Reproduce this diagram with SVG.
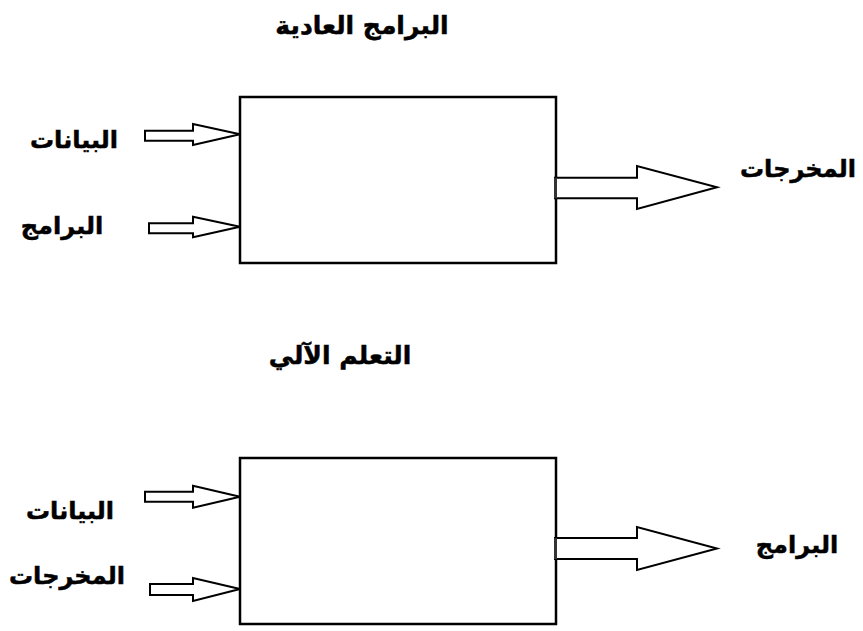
<svg xmlns="http://www.w3.org/2000/svg" width="863" height="631" viewBox="0 0 863 631">
<style>
.bg{fill:#fff}
.box{fill:none;stroke:#000;stroke-width:2.5}
.arr{fill:#fff;stroke:#000;stroke-width:2;stroke-linejoin:miter}
.t{font-family:"DejaVu Sans","Liberation Sans",sans-serif;font-weight:bold;fill:#000;stroke:#000;stroke-width:0.5;text-anchor:middle}
.s{font-size:24px}
.h{font-size:25px}
</style>
<rect class="bg" x="0" y="0" width="863" height="631"/>
<g id="title1"><text class="t h" x="362" y="34" direction="rtl">البرامج العادية</text></g>
<g id="box1"><rect class="box" x="240" y="97" width="316" height="166"/></g>
<g id="label-data1"><text class="t s" x="74" y="148" direction="rtl">البيانات</text></g>
<g id="label-prog1"><text class="t s" x="62" y="234" direction="rtl">البرامج</text></g>
<g id="label-out1"><text class="t s" x="798" y="177" direction="rtl">المخرجات</text></g>
<g id="title2"><text class="t h" x="340" y="364" direction="rtl">التعلم الآلي</text></g>
<g id="box2"><rect class="box" x="240" y="458" width="316" height="166"/></g>
<g id="label-data2"><text class="t s" x="70" y="519" direction="rtl">البيانات</text></g>
<g id="label-out2"><text class="t s" x="67" y="584" direction="rtl">المخرجات</text></g>
<g id="label-prog2"><text class="t s" x="797" y="553" direction="rtl">البرامج</text></g>
<g id="connectors">
<polygon class="arr" points="145,130.7 193,130.7 193,124 240,134.3 193,145 193,140.7 145,140.7"/>
<polygon class="arr" points="149,223.3 193,223.3 193,216.7 240,226.7 193,237.3 193,233.3 149,233.3"/>
<polygon class="arr" points="555,177.7 637,177.7 637,166 717,187.3 637,209 637,198.3 555,198.3"/>
<rect x="554" y="177.7" width="3" height="20.6" fill="#333"/>
<polygon class="arr" points="145,491.7 193,491.7 193,485.7 240,496.7 193,507.7 193,501.7 145,501.7"/>
<polygon class="arr" points="150,584 193,584 193,578 240,589 193,601 193,595 150,595"/>
<polygon class="arr" points="555,538 637,538 637,527 717,548.5 637,570 637,559 555,559"/>
<rect x="554" y="538" width="3" height="21" fill="#333"/>
</g>
</svg>
